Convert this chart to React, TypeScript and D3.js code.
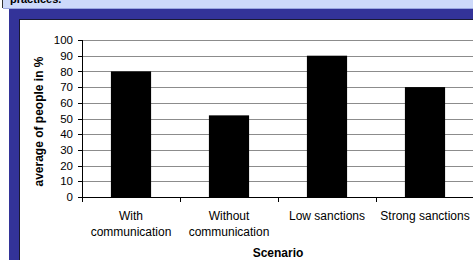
import React from "react";
import * as d3 from "d3";

const categories: string[][] = [
  ["With", "communication"],
  ["Without", "communication"],
  ["Low sanctions"],
  ["Strong sanctions"],
];
const values: number[] = [80, 52, 90, 70];
const yTicks: number[] = [0, 10, 20, 30, 40, 50, 60, 70, 80, 90, 100];
const yTitle = "average of people in %";
const xTitle = "Scenario";
const headerText = "practices.";

export default function App() {
  const W = 473;
  const H = 260;
  const left = 82;
  const right = 474;
  const top = 40;
  const bottom = 197;
  const font = "'Liberation Sans', Arial, sans-serif";

  const keys = categories.map((c) => c.join(" "));
  const x = d3
    .scaleBand<string>()
    .domain(keys)
    .range([left, right])
    .paddingInner(0.59)
    .paddingOuter(0.295);
  const step = x.step();
  const y = d3.scaleLinear().domain([0, 100]).range([bottom, top]);

  const boundaries = d3.range(keys.length + 1).map((i) => left + i * step);

  return (
    <svg
      width={W}
      height={H}
      style={{ position: "absolute", left: 0, top: 0, display: "block" }}
    >
      <rect x={0} y={0} width={W} height={H} fill="#ffffff" />
      {/* header band */}
      <rect x={3} y={0} width={W - 3} height={8} fill="#cdd9fa" />
      <line x1={2.5} y1={0} x2={2.5} y2={8} stroke="#333" strokeWidth={1} />
      <line x1={3} y1={8.5} x2={W} y2={8.5} stroke="#9aa6e0" strokeWidth={1} />
      <text
        x={10}
        y={3}
        fontFamily={font}
        fontWeight="bold"
        fontSize={11}
        fill="#000"
      >
        {headerText}
      </text>
      {/* dark blue frame */}
      <rect x={9} y={9} width={W - 9} height={H - 9} fill="#333399" />
      <rect x={19} y={19} width={W - 19} height={H - 19} fill="#1a1a33" />
      <rect x={20} y={20} width={W - 20} height={H - 20} fill="#ffffff" />

      {/* gridlines */}
      {yTicks.map((t) => (
        <line
          key={"g" + t}
          x1={left}
          x2={right}
          y1={Math.round(y(t)) + 0.5}
          y2={Math.round(y(t)) + 0.5}
          stroke="#8c8c8c"
          strokeWidth={1}
        />
      ))}

      {/* bars */}
      {values.map((v, i) => (
        <rect
          key={"b" + i}
          x={x(keys[i])}
          y={y(v)}
          width={x.bandwidth()}
          height={bottom - y(v)}
          fill="#000000"
        />
      ))}

      {/* y axis */}
      <line x1={left + 0.5} x2={left + 0.5} y1={top} y2={bottom + 1} stroke="#000" />
      {yTicks.map((t) => (
        <g key={"t" + t}>
          <line
            x1={left - 4}
            x2={left}
            y1={Math.round(y(t)) + 0.5}
            y2={Math.round(y(t)) + 0.5}
            stroke="#000"
          />
          <text
            x={73}
            y={y(t)}
            dy="0.36em"
            textAnchor="end"
            fontFamily={font}
            fontSize={11.5}
            fill="#000"
          >
            {t}
          </text>
        </g>
      ))}

      {/* x axis */}
      <line x1={left} x2={right} y1={bottom + 0.5} y2={bottom + 0.5} stroke="#000" />
      {boundaries.map((b, i) => (
        <line
          key={"xb" + i}
          x1={Math.round(b) + 0.5}
          x2={Math.round(b) + 0.5}
          y1={bottom}
          y2={bottom + 5}
          stroke="#000"
        />
      ))}
      {categories.map((lines, i) => (
        <text
          key={"xl" + i}
          x={(x(keys[i]) as number) + x.bandwidth() / 2}
          y={220}
          textAnchor="middle"
          fontFamily={font}
          fontSize={12}
          fill="#000"
        >
          {lines.map((l, j) => (
            <tspan key={j} x={(x(keys[i]) as number) + x.bandwidth() / 2} dy={j === 0 ? 0 : 16}>
              {l}
            </tspan>
          ))}
        </text>
      ))}

      {/* titles */}
      <text
        x={(left + right) / 2}
        y={257}
        textAnchor="middle"
        fontFamily={font}
        fontWeight="bold"
        fontSize={12}
        fill="#000"
      >
        {xTitle}
      </text>
      <text
        transform={`translate(43, ${(top + bottom) / 2 + 3}) rotate(-90)`}
        textAnchor="middle"
        fontFamily={font}
        fontWeight="bold"
        fontSize={12}
        fill="#000"
      >
        {yTitle}
      </text>
    </svg>
  );
}
